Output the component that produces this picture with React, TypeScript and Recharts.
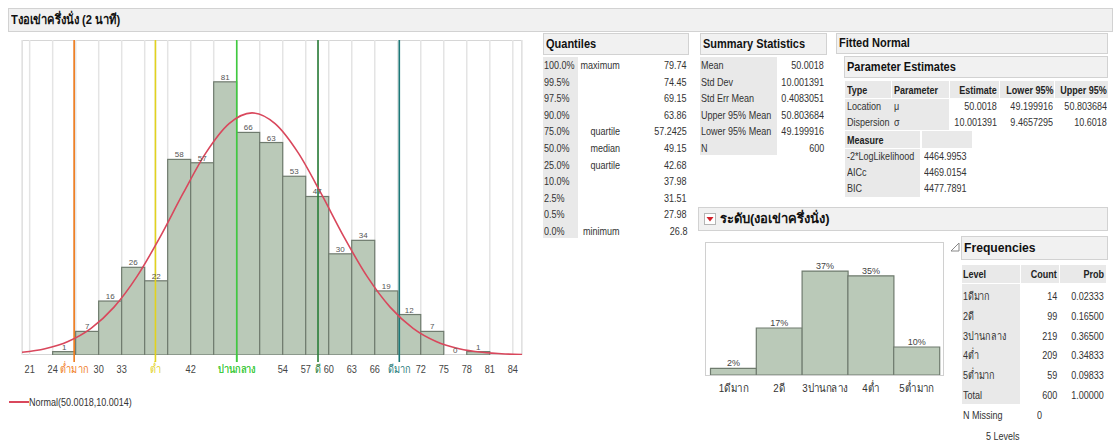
import React from "react";
import {
  ComposedChart,
  BarChart,
  Bar,
  Line,
  XAxis,
  YAxis,
  CartesianGrid,
  ReferenceLine,
  LabelList,
} from "recharts";

// ---------- data ----------
const binStarts = [24, 27, 30, 33, 36, 39, 42, 45, 48, 51, 54, 57, 60, 63, 66, 69, 72, 75, 78];
const binCounts = [1, 7, 16, 26, 22, 58, 57, 81, 66, 63, 53, 47, 30, 34, 19, 12, 7, 0, 1];
const binWidth = 3;

const fitX = [20, 23, 26, 29, 32, 35, 38, 41, 44, 47, 50, 53, 56, 59, 62, 65, 68, 71, 74, 77, 80, 83, 85.2];
const fitY = [0.8, 1.88, 4.03, 7.92, 14.2, 23.3, 34.95, 47.9, 60.0, 68.6, 71.8, 68.6, 60.0, 47.9, 34.95, 23.3, 14.2, 7.92, 4.03, 1.88, 0.8, 0.31, 0.15];

const gridTicks = [21, 24, 27, 30, 33, 36, 39, 42, 45, 48, 51, 54, 57, 60, 63, 66, 69, 72, 75, 78, 81, 84];
const hiddenTicks = [27, 36, 39, 45, 48, 51, 69];
const cutValues = [26.8, 37.4, 48.0, 58.6, 69.2];
const cutLabels = ["ต่ำมาก", "ต่ำ", "ปานกลาง", "ดี", "ดีมาก"];
const cutColors = ["#f07a1a", "#e2d21e", "#3fcb3f", "#2a7d38", "#1c7878"];

const quantileLevels = ["100.0%", "99.5%", "97.5%", "90.0%", "75.0%", "50.0%", "25.0%", "10.0%", "2.5%", "0.5%", "0.0%"];
const quantileNames = ["maximum", "", "", "", "quartile", "median", "quartile", "", "", "", "minimum"];
const quantileValues = ["79.74", "74.45", "69.15", "63.86", "57.2425", "49.15", "42.68", "37.98", "31.51", "27.98", "26.8"];

const summaryLabels = ["Mean", "Std Dev", "Std Err Mean", "Upper 95% Mean", "Lower 95% Mean", "N"];
const summaryValues = ["50.0018", "10.001391", "0.4083051", "50.803684", "49.199916", "600"];

const paramHeaders = ["Type", "Parameter", "Estimate", "Lower 95%", "Upper 95%"];
const paramTypes = ["Location", "Dispersion"];
const paramSymbols = ["μ", "σ"];
const paramEstimates = ["50.0018", "10.001391"];
const paramLower = ["49.199916", "9.4657295"];
const paramUpper = ["50.803684", "10.6018"];

const measureLabels = ["-2*LogLikelihood", "AICc", "BIC"];
const measureValues = ["4464.9953", "4469.0154", "4477.7891"];

const levelNames = ["1ดีมาก", "2ดี", "3ปานกลาง", "4ต่ำ", "5ต่ำมาก"];
const levelCounts = [14, 99, 219, 209, 59];
const levelProbs = [0.02333, 0.165, 0.365, 0.34833, 0.09833];
const totalCount = 600;
const totalProb = "1.00000";

// ---------- styles ----------
const FONT = '"Liberation Sans", Arial, sans-serif';
const BAR_FILL = "#bac9b8";
const BAR_STROKE = "#6f7b6e";
const HEAD_BG = "#f1f1f1";
const HEAD_BORDER = "#d2d2d2";
const CELL_GREY = "#e9e9e9";
const TXT = "#333";
const SX = 0.82;

const X_DOMAIN: [number, number] = [20, 85.2];
const MAIN_W = 540;
const MAIN_H = 380;
const ML = 22;
const MR = 18;
const MT = 40;
const AXIS_H = 25;
const plotW = MAIN_W - ML - MR;
const barPx = (plotW * binWidth) / (X_DOMAIN[1] - X_DOMAIN[0]);

const histData = binStarts.map((s, i) => ({ x: s + binWidth / 2, count: binCounts[i] }));
const fitData = fitX.map((x, i) => ({ x, fit: fitY[i] }));
const allTicks = [...gridTicks, ...cutValues].sort((a, b) => a - b);
const levelData = levelNames.map((n, i) => ({ name: n, prob: levelProbs[i], count: levelCounts[i] }));

const HistBar = (p: any) => {
  if (!p.height || p.height <= 0) return <g />;
  const cx = p.x + p.width / 2;
  return (
    <rect
      x={cx - barPx / 2}
      y={p.y}
      width={barPx}
      height={p.height}
      fill={BAR_FILL}
      stroke={BAR_STROKE}
      strokeWidth={1.2}
    />
  );
};

const SvgLabel = ({ x, y, text, color, size = 11.5, sx = 0.8 }: any) => (
  <text
    transform={`translate(${x},${y}) scale(${sx},1)`}
    x={0}
    y={0}
    textAnchor="middle"
    fill={color}
    fontSize={size}
  >
    {text}
  </text>
);

const MainTick = (p: any) => {
  const v = p.payload.value;
  const ci = cutValues.indexOf(v);
  if (ci >= 0) {
    return (
      <g>
        <line x1={p.x} x2={p.x} y1={p.y - 8} y2={p.y - 1} stroke={cutColors[ci]} strokeWidth={1.6} />
        <SvgLabel x={p.x} y={p.y + 10} text={cutLabels[ci]} color={cutColors[ci]} />
      </g>
    );
  }
  if (hiddenTicks.includes(v)) return <g />;
  return <SvgLabel x={p.x} y={p.y + 10} text={String(v)} color="#444" />;
};

const LevelTick = (p: any) => (
  <SvgLabel x={p.x} y={p.y + 9} text={p.payload.value} color="#333" size={11.5} sx={0.85} />
);

const abs = (x: number, y: number, w?: number, h?: number): React.CSSProperties => ({
  position: "absolute",
  left: x,
  top: y,
  width: w,
  height: h,
});

const Header = ({ x, y, w, h, text, size = 12.5, sx = 0.88 }: any) => (
  <div
    style={{
      ...abs(x, y, w, h),
      boxSizing: "border-box",
      background: HEAD_BG,
      border: `1px solid ${HEAD_BORDER}`,
      fontWeight: "bold",
      fontSize: size,
      color: "#111",
      lineHeight: `${h - 2}px`,
      paddingLeft: 2,
      whiteSpace: "nowrap",
    }}
  >
    <span style={{ display: "inline-block", transform: `scaleX(${sx})`, transformOrigin: "left center" }}>
      {text}
    </span>
  </div>
);

const T = ({ x, y, text, align = "left", bold = false, color = TXT, size = 11, sx = SX }: any) => {
  const style: React.CSSProperties = {
    position: "absolute",
    top: y - 8,
    height: 16,
    lineHeight: "16px",
    fontSize: size,
    color,
    fontWeight: bold ? "bold" : "normal",
    whiteSpace: "nowrap",
  };
  if (align === "right") {
    style.right = 1113 - x;
  } else {
    style.left = x;
  }
  return (
    <div style={style}>
      <span
        style={{
          display: "inline-block",
          transform: `scaleX(${sx})`,
          transformOrigin: align === "right" ? "right center" : "left center",
        }}
      >
        {text}
      </span>
    </div>
  );
};

const Box = ({ x, y, w, h, bg = CELL_GREY }: any) => (
  <div style={{ ...abs(x, y, w, h), background: bg }} />
);

export default function App() {
  const qRow = (i: number) => 65 + i * 16.6;
  const pRowY = [106, 122];
  const mRowY = [156, 172, 188];
  const fRow = (i: number) => 296 + i * 19.8;

  return (
    <div style={{ ...abs(0, 0, 1113, 445), background: "#fff", fontFamily: FONT, overflow: "hidden" }}>
      {/* Title bar */}
      <Header x={8} y={8} w={1105} h={24} text="Tงอเข่าครึ่งนั่ง (2 นาที)" size={13} sx={0.86} />

      {/* Main plot frame */}
      <div style={{ ...abs(ML, MT, plotW, MAIN_H - MT - AXIS_H), boxSizing: "border-box", border: "1px solid #d6d6d6" }} />

      {/* Histogram */}
      <div style={abs(0, 0, MAIN_W, MAIN_H)}>
        <ComposedChart
          width={MAIN_W}
          height={MAIN_H}
          data={histData}
          margin={{ left: ML, right: MR, top: MT, bottom: 0 }}
        >
          <CartesianGrid horizontal={false} stroke="#e4e4e4" strokeWidth={1.5} />
          <XAxis
            dataKey="x"
            type="number"
            domain={X_DOMAIN}
            allowDataOverflow
            ticks={allTicks}
            interval={0}
            height={AXIS_H}
            axisLine={false}
            tickLine={false}
            tick={<MainTick />}
          />
          <YAxis hide type="number" domain={[0, 93.4]} allowDataOverflow />
          {cutValues.map((v, i) => (
            <ReferenceLine key={v} x={v} stroke={cutColors[i]} strokeWidth={1.6} />
          ))}
          <Bar dataKey="count" shape={<HistBar />} isAnimationActive={false}>
            <LabelList dataKey="count" position="top" offset={2} fontSize={8} fill="#555" />
          </Bar>
          <Line
            data={fitData}
            dataKey="fit"
            type="monotone"
            stroke="#d9475c"
            strokeWidth={1.6}
            dot={false}
            isAnimationActive={false}
          />
        </ComposedChart>
      </div>

      {/* Legend */}
      <div style={{ ...abs(9, 401, 20, 1.6), background: "#d9475c" }} />
      <T x={29} y={402} text="Normal(50.0018,10.0014)" size={11} />

      {/* Quantiles */}
      <Header x={543} y={33} w={146} h={22} text="Quantiles" />
      <Box x={543} y={57} w={35} h={181} />
      {quantileLevels.map((l, i) => (
        <React.Fragment key={l}>
          <T x={544} y={qRow(i)} text={l} />
          {quantileNames[i] && <T x={620} y={qRow(i)} text={quantileNames[i]} align="right" />}
          <T x={687} y={qRow(i)} text={quantileValues[i]} align="right" />
        </React.Fragment>
      ))}

      {/* Summary Statistics */}
      <Header x={700} y={33} w={127} h={22} text="Summary Statistics" />
      <Box x={700} y={57} w={77} h={98} />
      {summaryLabels.map((l, i) => (
        <React.Fragment key={l}>
          <T x={701} y={qRow(i)} text={l} />
          <T x={824} y={qRow(i)} text={summaryValues[i]} align="right" />
        </React.Fragment>
      ))}

      {/* Fitted Normal */}
      <Header x={836} y={33} w={272} h={21} text="Fitted Normal" />
      <Header x={844} y={56} w={264} h={22} text="Parameter Estimates" />
      <Box x={845} y={81} w={46} h={17} />
      <Box x={892} y={81} w={57} h={17} />
      <Box x={950} y={81} w={49} h={17} />
      <Box x={1000} y={81} w={54} h={17} />
      <Box x={1055} y={81} w={53} h={17} />
      <T x={847} y={90} text={paramHeaders[0]} bold color="#222" />
      <T x={894} y={90} text={paramHeaders[1]} bold color="#222" />
      <T x={997} y={90} text={paramHeaders[2]} bold color="#222" align="right" />
      <T x={1053} y={90} text={paramHeaders[3]} bold color="#222" align="right" />
      <T x={1107} y={90} text={paramHeaders[4]} bold color="#222" align="right" />
      <Box x={845} y={99} w={104} h={31} />
      {paramTypes.map((t, i) => (
        <React.Fragment key={t}>
          <T x={847} y={pRowY[i]} text={t} />
          <T x={894} y={pRowY[i]} text={paramSymbols[i]} />
          <T x={997} y={pRowY[i]} text={paramEstimates[i]} align="right" />
          <T x={1053} y={pRowY[i]} text={paramLower[i]} align="right" />
          <T x={1107} y={pRowY[i]} text={paramUpper[i]} align="right" />
        </React.Fragment>
      ))}
      <Box x={845} y={131} w={75} h={17} />
      <Box x={922} y={131} w={50} h={17} />
      <T x={847} y={140} text="Measure" bold color="#222" />
      <Box x={845} y={149} w={75} h={48} />
      {measureLabels.map((m, i) => (
        <React.Fragment key={m}>
          <T x={847} y={mRowY[i]} text={m} />
          <T x={924} y={mRowY[i]} text={measureValues[i]} />
        </React.Fragment>
      ))}

      {/* Level section header */}
      <Header x={698} y={207} w={410} h={24} text="" />
      <div
        style={{
          ...abs(704, 213, 12, 12),
          boxSizing: "border-box",
          background: "#fff",
          border: "1px solid #b5b5b5",
        }}
      >
        <svg width={10} height={10} style={{ position: "absolute", left: 0, top: 0 }}>
          <polygon points="1.5,3 8.5,3 5,7.5" fill="#d2202a" />
        </svg>
      </div>
      <div
        style={{
          ...abs(720, 209, 200, 20),
          fontWeight: "bold",
          fontSize: 13,
          lineHeight: "20px",
          color: "#111",
          whiteSpace: "nowrap",
        }}
      >
        ระดับ(งอเข่าครึ่งนั่ง)
      </div>

      {/* Level bar chart */}
      <div style={{ ...abs(705, 242, 239, 134), boxSizing: "border-box", border: "1px solid #d0d0d0" }} />
      <div style={abs(705, 242, 239, 160)}>
        <BarChart
          width={239}
          height={160}
          data={levelData}
          margin={{ left: 5.5, right: 4.5, top: 0, bottom: 0 }}
          barCategoryGap={0}
        >
          <XAxis
            dataKey="name"
            type="category"
            interval={0}
            height={27}
            axisLine={false}
            tickLine={false}
            tick={<LevelTick />}
          />
          <YAxis hide type="number" domain={[0, 0.467]} allowDataOverflow />
          <Bar dataKey="prob" fill={BAR_FILL} stroke={BAR_STROKE} strokeWidth={1.2} isAnimationActive={false}>
            <LabelList
              dataKey="prob"
              position="top"
              offset={2}
              fontSize={9}
              fill="#444"
              formatter={(v: any) => `${Math.round(Number(v) * 100)}%`}
            />
          </Bar>
        </BarChart>
      </div>

      {/* Frequencies */}
      <svg style={{ position: "absolute", left: 950, top: 242 }} width={10} height={10}>
        <polygon points="1,9 9,9 9,1" fill="none" stroke="#888" strokeWidth={1} />
      </svg>
      <Header x={961} y={236} w={147} h={24} text="Frequencies" size={13.5} sx={0.9} />
      <Box x={962} y={265} w={58} h={18} />
      <Box x={1021} y={265} w={38} h={18} />
      <Box x={1060} y={265} w={46} h={18} />
      <T x={963} y={274} text="Level" bold color="#222" />
      <T x={1057} y={274} text="Count" bold color="#222" align="right" />
      <T x={1104} y={274} text="Prob" bold color="#222" align="right" />
      <Box x={962} y={284} w={58} h={120} />
      {levelNames.map((n, i) => (
        <React.Fragment key={n}>
          <T x={963} y={fRow(i)} text={n} />
          <T x={1057} y={fRow(i)} text={String(levelCounts[i])} align="right" />
          <T x={1104} y={fRow(i)} text={levelProbs[i].toFixed(5)} align="right" />
        </React.Fragment>
      ))}
      <T x={963} y={fRow(5)} text="Total" />
      <T x={1057} y={fRow(5)} text={String(totalCount)} align="right" />
      <T x={1104} y={fRow(5)} text={totalProb} align="right" />
      <T x={963} y={415} text="N Missing" />
      <T x={1037} y={415} text="0" />
      <T x={986} y={436} text="5  Levels" />
    </div>
  );
}
